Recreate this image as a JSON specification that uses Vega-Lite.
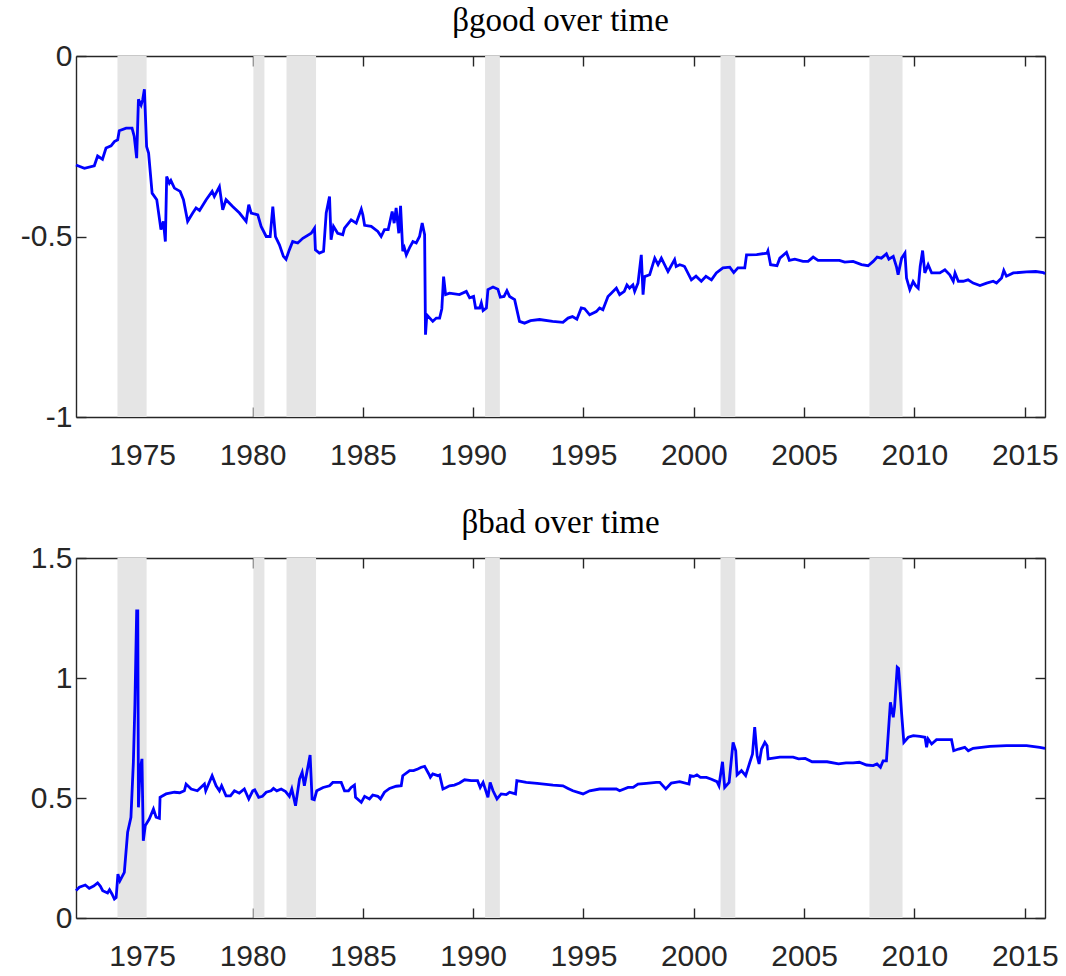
{
  "$schema": "https://vega.github.io/schema/vega-lite/v6.json",
  "padding": {"left": 20, "top": 5, "right": 5, "bottom": 2},
  "spacing": 37,
  "datasets": {
    "rec": [
      {"s": 1973.88, "e": 1975.2},
      {"s": 1980.04, "e": 1980.54},
      {"s": 1981.54, "e": 1982.88},
      {"s": 1990.54, "e": 1991.21},
      {"s": 2001.21, "e": 2001.88},
      {"s": 2007.96, "e": 2009.46}
    ],
    "good": [
      {"t":1972.0,"v":-0.302},{"t":1972.38,"v":-0.311},{"t":1972.83,"v":-0.304},{"t":1972.98,"v":-0.277},{"t":1973.2,"v":-0.286},{"t":1973.36,"v":-0.255},{"t":1973.59,"v":-0.249},{"t":1973.74,"v":-0.237},{"t":1973.89,"v":-0.232},{"t":1973.96,"v":-0.207},{"t":1974.27,"v":-0.2},{"t":1974.54,"v":-0.2},{"t":1974.64,"v":-0.223},{"t":1974.75,"v":-0.283},{"t":1974.83,"v":-0.12},{"t":1974.95,"v":-0.136},{"t":1975.02,"v":-0.122},{"t":1975.1,"v":-0.092},{"t":1975.2,"v":-0.251},{"t":1975.29,"v":-0.269},{"t":1975.45,"v":-0.38},{"t":1975.66,"v":-0.398},{"t":1975.85,"v":-0.481},{"t":1975.96,"v":-0.458},{"t":1976.05,"v":-0.514},{"t":1976.11,"v":-0.334},{"t":1976.23,"v":-0.352},{"t":1976.3,"v":-0.345},{"t":1976.46,"v":-0.366},{"t":1976.72,"v":-0.375},{"t":1976.87,"v":-0.398},{"t":1977.06,"v":-0.458},{"t":1977.29,"v":-0.435},{"t":1977.44,"v":-0.421},{"t":1977.6,"v":-0.428},{"t":1977.9,"v":-0.398},{"t":1978.17,"v":-0.375},{"t":1978.27,"v":-0.389},{"t":1978.5,"v":-0.362},{"t":1978.65,"v":-0.426},{"t":1978.8,"v":-0.398},{"t":1979.1,"v":-0.417},{"t":1979.41,"v":-0.435},{"t":1979.71,"v":-0.458},{"t":1979.83,"v":-0.412},{"t":1979.94,"v":-0.435},{"t":1980.24,"v":-0.44},{"t":1980.39,"v":-0.472},{"t":1980.62,"v":-0.5},{"t":1980.8,"v":-0.5},{"t":1980.92,"v":-0.417},{"t":1981.04,"v":-0.5},{"t":1981.22,"v":-0.523},{"t":1981.4,"v":-0.555},{"t":1981.52,"v":-0.563},{"t":1981.67,"v":-0.537},{"t":1981.82,"v":-0.514},{"t":1982.05,"v":-0.518},{"t":1982.28,"v":-0.505},{"t":1982.66,"v":-0.491},{"t":1982.81,"v":-0.477},{"t":1982.85,"v":-0.537},{"t":1983.03,"v":-0.546},{"t":1983.22,"v":-0.541},{"t":1983.34,"v":-0.435},{"t":1983.49,"v":-0.389},{"t":1983.56,"v":-0.509},{"t":1983.67,"v":-0.472},{"t":1983.86,"v":-0.491},{"t":1984.09,"v":-0.495},{"t":1984.17,"v":-0.477},{"t":1984.47,"v":-0.454},{"t":1984.7,"v":-0.463},{"t":1984.93,"v":-0.424},{"t":1985.0,"v":-0.44},{"t":1985.08,"v":-0.469},{"t":1985.38,"v":-0.472},{"t":1985.68,"v":-0.486},{"t":1985.83,"v":-0.5},{"t":1985.98,"v":-0.481},{"t":1986.15,"v":-0.481},{"t":1986.33,"v":-0.431},{"t":1986.42,"v":-0.463},{"t":1986.51,"v":-0.421},{"t":1986.63,"v":-0.491},{"t":1986.71,"v":-0.415},{"t":1986.81,"v":-0.541},{"t":1986.88,"v":-0.531},{"t":1986.97,"v":-0.551},{"t":1987.12,"v":-0.531},{"t":1987.27,"v":-0.514},{"t":1987.42,"v":-0.518},{"t":1987.57,"v":-0.5},{"t":1987.69,"v":-0.463},{"t":1987.8,"v":-0.495},{"t":1987.84,"v":-0.772},{"t":1987.9,"v":-0.717},{"t":1988.17,"v":-0.735},{"t":1988.33,"v":-0.726},{"t":1988.48,"v":-0.726},{"t":1988.58,"v":-0.7},{"t":1988.66,"v":-0.611},{"t":1988.75,"v":-0.661},{"t":1988.93,"v":-0.657},{"t":1989.38,"v":-0.661},{"t":1989.69,"v":-0.652},{"t":1989.84,"v":-0.67},{"t":1990.02,"v":-0.666},{"t":1990.11,"v":-0.698},{"t":1990.3,"v":-0.698},{"t":1990.37,"v":-0.684},{"t":1990.45,"v":-0.705},{"t":1990.6,"v":-0.698},{"t":1990.67,"v":-0.647},{"t":1990.9,"v":-0.64},{"t":1991.12,"v":-0.646},{"t":1991.23,"v":-0.668},{"t":1991.4,"v":-0.666},{"t":1991.53,"v":-0.65},{"t":1991.65,"v":-0.666},{"t":1991.88,"v":-0.675},{"t":1992.1,"v":-0.735},{"t":1992.33,"v":-0.74},{"t":1992.6,"v":-0.733},{"t":1993.01,"v":-0.73},{"t":1993.6,"v":-0.735},{"t":1994.07,"v":-0.738},{"t":1994.3,"v":-0.726},{"t":1994.5,"v":-0.722},{"t":1994.7,"v":-0.729},{"t":1994.9,"v":-0.698},{"t":1995.05,"v":-0.7},{"t":1995.28,"v":-0.717},{"t":1995.58,"v":-0.708},{"t":1995.73,"v":-0.698},{"t":1995.88,"v":-0.703},{"t":1996.11,"v":-0.666},{"t":1996.26,"v":-0.657},{"t":1996.49,"v":-0.643},{"t":1996.64,"v":-0.661},{"t":1996.85,"v":-0.652},{"t":1996.97,"v":-0.634},{"t":1997.09,"v":-0.643},{"t":1997.24,"v":-0.634},{"t":1997.32,"v":-0.652},{"t":1997.47,"v":-0.629},{"t":1997.62,"v":-0.551},{"t":1997.7,"v":-0.661},{"t":1997.77,"v":-0.611},{"t":1998.0,"v":-0.606},{"t":1998.23,"v":-0.56},{"t":1998.38,"v":-0.578},{"t":1998.53,"v":-0.56},{"t":1998.83,"v":-0.597},{"t":1999.13,"v":-0.564},{"t":1999.2,"v":-0.583},{"t":1999.36,"v":-0.578},{"t":1999.51,"v":-0.581},{"t":1999.58,"v":-0.583},{"t":1999.89,"v":-0.62},{"t":2000.1,"v":-0.61},{"t":2000.34,"v":-0.624},{"t":2000.55,"v":-0.61},{"t":2000.8,"v":-0.62},{"t":2001.02,"v":-0.601},{"t":2001.32,"v":-0.587},{"t":2001.63,"v":-0.585},{"t":2001.81,"v":-0.6},{"t":2002.0,"v":-0.587},{"t":2002.31,"v":-0.587},{"t":2002.39,"v":-0.551},{"t":2002.85,"v":-0.55},{"t":2003.32,"v":-0.546},{"t":2003.36,"v":-0.54},{"t":2003.48,"v":-0.578},{"t":2003.77,"v":-0.581},{"t":2003.9,"v":-0.56},{"t":2004.2,"v":-0.544},{"t":2004.33,"v":-0.566},{"t":2004.58,"v":-0.563},{"t":2004.95,"v":-0.569},{"t":2005.18,"v":-0.569},{"t":2005.41,"v":-0.557},{"t":2005.63,"v":-0.566},{"t":2006.16,"v":-0.566},{"t":2006.6,"v":-0.566},{"t":2006.84,"v":-0.571},{"t":2007.22,"v":-0.569},{"t":2007.6,"v":-0.578},{"t":2007.9,"v":-0.581},{"t":2008.13,"v":-0.569},{"t":2008.31,"v":-0.557},{"t":2008.5,"v":-0.56},{"t":2008.73,"v":-0.548},{"t":2008.84,"v":-0.563},{"t":2009.04,"v":-0.555},{"t":2009.19,"v":-0.585},{"t":2009.26,"v":-0.606},{"t":2009.42,"v":-0.56},{"t":2009.57,"v":-0.546},{"t":2009.64,"v":-0.615},{"t":2009.79,"v":-0.647},{"t":2009.94,"v":-0.625},{"t":2010.05,"v":-0.636},{"t":2010.17,"v":-0.643},{"t":2010.26,"v":-0.583},{"t":2010.37,"v":-0.539},{"t":2010.47,"v":-0.601},{"t":2010.62,"v":-0.578},{"t":2010.78,"v":-0.601},{"t":2011.15,"v":-0.601},{"t":2011.38,"v":-0.592},{"t":2011.6,"v":-0.606},{"t":2011.76,"v":-0.624},{"t":2011.84,"v":-0.601},{"t":2011.99,"v":-0.624},{"t":2012.21,"v":-0.624},{"t":2012.43,"v":-0.62},{"t":2012.66,"v":-0.629},{"t":2012.97,"v":-0.636},{"t":2013.27,"v":-0.629},{"t":2013.57,"v":-0.624},{"t":2013.72,"v":-0.629},{"t":2013.95,"v":-0.615},{"t":2014.05,"v":-0.594},{"t":2014.17,"v":-0.61},{"t":2014.48,"v":-0.601},{"t":2015.08,"v":-0.598},{"t":2015.5,"v":-0.597},{"t":2015.84,"v":-0.6},{"t":2015.92,"v":-0.603}
    ],
    "bad": [
      {"t":1972.0,"v":0.114},{"t":1972.15,"v":0.128},{"t":1972.42,"v":0.1375},{"t":1972.6,"v":0.124},{"t":1972.8,"v":0.133},{"t":1972.98,"v":0.146},{"t":1973.1,"v":0.133},{"t":1973.21,"v":0.114},{"t":1973.43,"v":0.104},{"t":1973.52,"v":0.118},{"t":1973.63,"v":0.1},{"t":1973.74,"v":0.079},{"t":1973.82,"v":0.085},{"t":1973.9,"v":0.183},{"t":1973.99,"v":0.155},{"t":1974.19,"v":0.19},{"t":1974.34,"v":0.357},{"t":1974.49,"v":0.42},{"t":1974.6,"v":0.649},{"t":1974.67,"v":0.89},{"t":1974.75,"v":1.28},{"t":1974.8,"v":1.28},{"t":1974.83,"v":0.461},{"t":1974.9,"v":0.614},{"t":1974.99,"v":0.663},{"t":1975.05,"v":0.322},{"t":1975.14,"v":0.385},{"t":1975.32,"v":0.4125},{"t":1975.51,"v":0.454},{"t":1975.63,"v":0.42},{"t":1975.78,"v":0.415},{"t":1975.81,"v":0.503},{"t":1976.08,"v":0.517},{"t":1976.46,"v":0.524},{"t":1976.7,"v":0.522},{"t":1976.91,"v":0.53},{"t":1976.99,"v":0.558},{"t":1977.22,"v":0.5375},{"t":1977.5,"v":0.53},{"t":1977.82,"v":0.558},{"t":1977.88,"v":0.53},{"t":1978.17,"v":0.593},{"t":1978.35,"v":0.551},{"t":1978.5,"v":0.53},{"t":1978.6,"v":0.551},{"t":1978.8,"v":0.509},{"t":1979.0,"v":0.509},{"t":1979.18,"v":0.53},{"t":1979.4,"v":0.52},{"t":1979.63,"v":0.5375},{"t":1979.83,"v":0.496},{"t":1980.01,"v":0.53},{"t":1980.1,"v":0.534},{"t":1980.28,"v":0.503},{"t":1980.45,"v":0.507},{"t":1980.62,"v":0.524},{"t":1980.84,"v":0.53},{"t":1980.95,"v":0.54},{"t":1981.1,"v":0.53},{"t":1981.3,"v":0.5375},{"t":1981.5,"v":0.527},{"t":1981.67,"v":0.507},{"t":1981.78,"v":0.5375},{"t":1981.95,"v":0.468},{"t":1982.13,"v":0.579},{"t":1982.25,"v":0.607},{"t":1982.35,"v":0.551},{"t":1982.61,"v":0.679},{"t":1982.7,"v":0.496},{"t":1982.8,"v":0.493},{"t":1982.91,"v":0.53},{"t":1983.2,"v":0.544},{"t":1983.49,"v":0.551},{"t":1983.64,"v":0.565},{"t":1984.02,"v":0.565},{"t":1984.17,"v":0.53},{"t":1984.35,"v":0.53},{"t":1984.47,"v":0.544},{"t":1984.62,"v":0.554},{"t":1984.67,"v":0.503},{"t":1984.93,"v":0.482},{"t":1985.08,"v":0.507},{"t":1985.3,"v":0.496},{"t":1985.45,"v":0.5125},{"t":1985.68,"v":0.507},{"t":1985.8,"v":0.496},{"t":1985.98,"v":0.524},{"t":1986.21,"v":0.54},{"t":1986.51,"v":0.549},{"t":1986.74,"v":0.551},{"t":1986.81,"v":0.593},{"t":1987.12,"v":0.614},{"t":1987.3,"v":0.614},{"t":1987.49,"v":0.621},{"t":1987.65,"v":0.628},{"t":1987.8,"v":0.632},{"t":1987.99,"v":0.6},{"t":1988.06,"v":0.586},{"t":1988.17,"v":0.6},{"t":1988.4,"v":0.593},{"t":1988.48,"v":0.596},{"t":1988.63,"v":0.5375},{"t":1988.78,"v":0.544},{"t":1988.93,"v":0.551},{"t":1989.15,"v":0.554},{"t":1989.38,"v":0.5625},{"t":1989.61,"v":0.576},{"t":1989.91,"v":0.572},{"t":1990.2,"v":0.572},{"t":1990.32,"v":0.544},{"t":1990.45,"v":0.565},{"t":1990.67,"v":0.503},{"t":1990.77,"v":0.565},{"t":1990.9,"v":0.53},{"t":1991.08,"v":0.496},{"t":1991.27,"v":0.517},{"t":1991.5,"v":0.514},{"t":1991.65,"v":0.524},{"t":1991.92,"v":0.517},{"t":1991.98,"v":0.572},{"t":1992.41,"v":0.565},{"t":1992.9,"v":0.561},{"t":1993.62,"v":0.554},{"t":1994.07,"v":0.551},{"t":1994.3,"v":0.54},{"t":1994.52,"v":0.53},{"t":1994.98,"v":0.517},{"t":1995.28,"v":0.53},{"t":1995.73,"v":0.5375},{"t":1996.49,"v":0.5375},{"t":1996.64,"v":0.53},{"t":1997.02,"v":0.544},{"t":1997.25,"v":0.544},{"t":1997.47,"v":0.558},{"t":1997.85,"v":0.561},{"t":1998.3,"v":0.565},{"t":1998.46,"v":0.565},{"t":1998.73,"v":0.5375},{"t":1998.98,"v":0.5625},{"t":1999.36,"v":0.568},{"t":1999.78,"v":0.558},{"t":1999.84,"v":0.593},{"t":2000.0,"v":0.59},{"t":2000.14,"v":0.596},{"t":2000.3,"v":0.586},{"t":2000.57,"v":0.586},{"t":2000.8,"v":0.578},{"t":2001.05,"v":0.568},{"t":2001.14,"v":0.551},{"t":2001.3,"v":0.651},{"t":2001.4,"v":0.544},{"t":2001.6,"v":0.565},{"t":2001.78,"v":0.732},{"t":2001.9,"v":0.697},{"t":2001.96,"v":0.596},{"t":2002.16,"v":0.614},{"t":2002.35,"v":0.593},{"t":2002.54,"v":0.649},{"t":2002.66,"v":0.683},{"t":2002.76,"v":0.795},{"t":2002.87,"v":0.676},{"t":2002.96,"v":0.642},{"t":2003.07,"v":0.704},{"t":2003.22,"v":0.732},{"t":2003.32,"v":0.718},{"t":2003.37,"v":0.6625},{"t":2003.9,"v":0.67},{"t":2004.5,"v":0.67},{"t":2004.75,"v":0.663},{"t":2005.05,"v":0.665},{"t":2005.36,"v":0.651},{"t":2006.04,"v":0.651},{"t":2006.56,"v":0.642},{"t":2006.9,"v":0.646},{"t":2007.22,"v":0.646},{"t":2007.5,"v":0.649},{"t":2007.83,"v":0.6375},{"t":2008.13,"v":0.635},{"t":2008.3,"v":0.642},{"t":2008.46,"v":0.628},{"t":2008.58,"v":0.655},{"t":2008.73,"v":0.655},{"t":2008.91,"v":0.899},{"t":2009.04,"v":0.836},{"t":2009.1,"v":0.88},{"t":2009.22,"v":1.045},{"t":2009.28,"v":1.04},{"t":2009.42,"v":0.85},{"t":2009.52,"v":0.732},{"t":2009.72,"v":0.753},{"t":2009.95,"v":0.76},{"t":2010.25,"v":0.757},{"t":2010.48,"v":0.753},{"t":2010.55,"v":0.711},{"t":2010.62,"v":0.746},{"t":2010.78,"v":0.725},{"t":2011.0,"v":0.743},{"t":2011.68,"v":0.743},{"t":2011.78,"v":0.697},{"t":2012.0,"v":0.704},{"t":2012.28,"v":0.711},{"t":2012.44,"v":0.697},{"t":2012.66,"v":0.707},{"t":2013.42,"v":0.715},{"t":2014.17,"v":0.718},{"t":2015.08,"v":0.718},{"t":2015.68,"v":0.711},{"t":2015.92,"v":0.707}
    ]
  },
  "vconcat": [
    {
      "width": 969,
      "height": 361,
      "title": {"text": "βgood over time"},
      "layer": [
        {
          "data": {"name": "rec"},
          "mark": {"type": "rect", "color": "#e5e5e5"},
          "encoding": {
            "x": {"field": "s", "type": "quantitative", "scale": {"domain": [1972, 2015.917], "nice": false, "zero": false},
                  "axis": {"orient": "top", "labels": false, "values": [1975,1980,1985,1990,1995,2000,2005,2010,2015], "title": null}},
            "x2": {"field": "e"}
          }
        },
        {
          "data": {"name": "good"},
          "mark": {"type": "line", "color": "#0000ff", "strokeWidth": 2.8},
          "encoding": {
            "x": {"field": "t", "type": "quantitative", "scale": {"domain": [1972, 2015.917], "nice": false, "zero": false},
                  "axis": {"orient": "bottom", "format": "d", "values": [1975,1980,1985,1990,1995,2000,2005,2010,2015], "title": null}},
            "y": {"field": "v", "type": "quantitative", "scale": {"domain": [-1, 0], "nice": false, "zero": false},
                  "axis": {"orient": "left", "values": [-1,-0.5,0], "format": "~g", "title": null, "labelExpr": "replace(datum.label, '−', '-')"}}
          }
        },
        {
          "data": {"name": "good"},
          "mark": {"type": "line", "opacity": 0},
          "encoding": {
            "x": {"field": "t", "type": "quantitative", "axis": null},
            "y": {"field": "v", "type": "quantitative", "axis": {"orient": "right", "labels": false, "values": [-1,-0.5,0], "title": null}}
          }
        }
      ],
      "resolve": {"axis": {"x": "independent", "y": "independent"}}
    },
    {
      "width": 969,
      "height": 360,
      "title": {"text": "βbad over time"},
      "layer": [
        {
          "data": {"name": "rec"},
          "mark": {"type": "rect", "color": "#e5e5e5"},
          "encoding": {
            "x": {"field": "s", "type": "quantitative", "scale": {"domain": [1972, 2015.917], "nice": false, "zero": false},
                  "axis": {"orient": "top", "labels": false, "values": [1975,1980,1985,1990,1995,2000,2005,2010,2015], "title": null}},
            "x2": {"field": "e"}
          }
        },
        {
          "data": {"name": "bad"},
          "mark": {"type": "line", "color": "#0000ff", "strokeWidth": 2.8},
          "encoding": {
            "x": {"field": "t", "type": "quantitative", "scale": {"domain": [1972, 2015.917], "nice": false, "zero": false},
                  "axis": {"orient": "bottom", "format": "d", "values": [1975,1980,1985,1990,1995,2000,2005,2010,2015], "title": null}},
            "y": {"field": "v", "type": "quantitative", "scale": {"domain": [0, 1.5], "nice": false, "zero": false},
                  "axis": {"orient": "left", "values": [0,0.5,1,1.5], "format": "~g", "title": null}}
          }
        },
        {
          "data": {"name": "bad"},
          "mark": {"type": "line", "opacity": 0},
          "encoding": {
            "x": {"field": "t", "type": "quantitative", "axis": null},
            "y": {"field": "v", "type": "quantitative", "axis": {"orient": "right", "labels": false, "values": [0,0.5,1,1.5], "title": null}}
          }
        }
      ],
      "resolve": {"axis": {"x": "independent", "y": "independent"}}
    }
  ],
  "config": {
    "view": {"stroke": null},
    "axis": {
      "domainColor": "#262626", "domainWidth": 1.4,
      "tickColor": "#262626", "tickWidth": 1.4, "tickSize": -10,
      "labelColor": "#262626", "labelFont": "Liberation Sans", "labelFontSize": 30,
      "labelPadding": 14, "grid": false, "zindex": 1
    },
    "axisX": {"labelPadding": 33},
    "title": {"font": "Liberation Serif", "fontSize": 33, "fontWeight": "normal", "color": "#000000", "offset": 3}
  }
}
